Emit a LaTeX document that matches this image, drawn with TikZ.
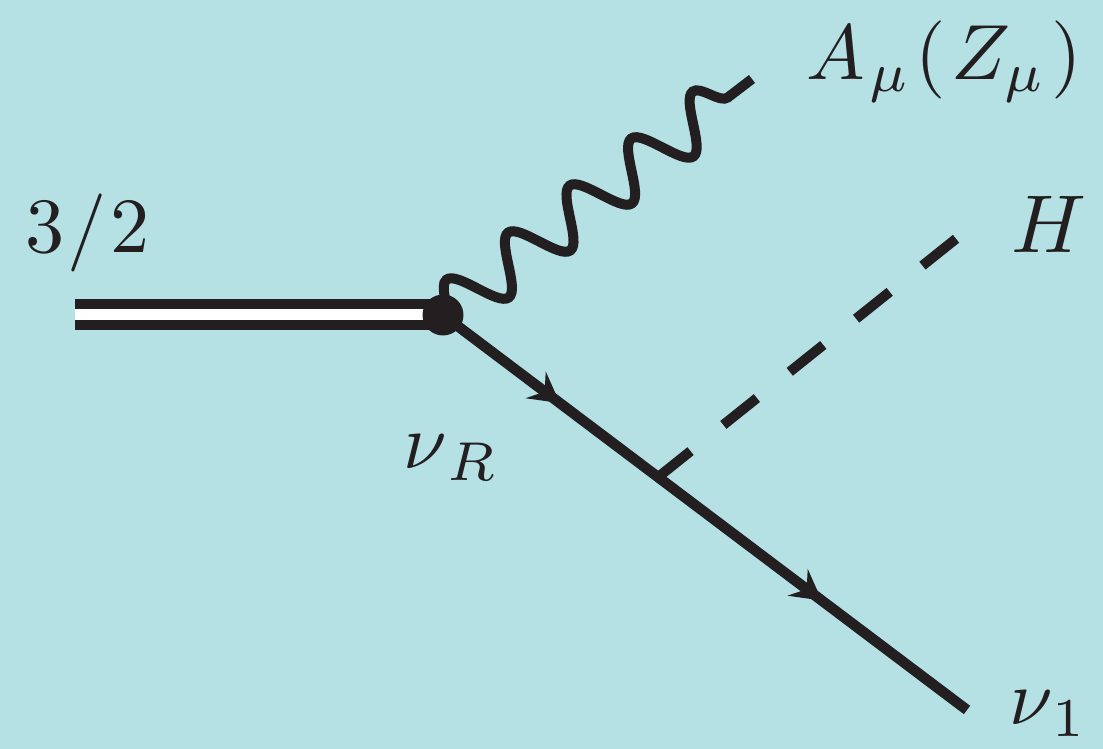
\RequirePackage{fix-cm}
\documentclass[tikz,border=0pt]{standalone}
\usetikzlibrary{arrows.meta, decorations.pathmorphing, decorations.markings}
\definecolor{cbg}{HTML}{B5E1E4}
\definecolor{cink}{HTML}{231F20}
\tikzset{
  every picture/.style={x=0.02cm, y=-0.02cm},
  label/.style={text=cink, anchor=base west, inner sep=0pt, scale=4.45, transform shape},
  vertex/.style={circle, fill=cink, inner sep=0pt, minimum size=0.82cm},
  scalar/.style={draw=cink, line width=0.2cm, dash pattern=on 0.86cm off 0.84cm},
  photon/.style={draw=cink, line width=0.2cm, decorate, decoration={snake, segment length=1.55cm, amplitude=0.52cm, post length=0pt}},
  heavy/.style={draw=cink, line width=0.2cm, double=white, double distance=0.22cm},
  fermion/.style={draw=cink, line width=0.21cm, postaction={decorate}, decoration={markings,
    mark=at position 0.223 with {\arrow[cink]{Stealth[length=0.6cm, width=0.66cm, inset=0.22cm]}},
    mark=at position 0.723 with {\arrow[cink]{Stealth[length=0.6cm, width=0.66cm, inset=0.22cm]}}}},
}
\begin{document}
\begin{tikzpicture}
  \fill[cbg] (0, 0) rectangle (1103, 749);
  \useasboundingbox (0, 0) rectangle (1103, 749);
  % vertices and free ends
  \coordinate (v) at (443, 315);
  \coordinate (j) at (657, 478);
  \coordinate (heavyend) at (75, 315);
  \coordinate (photonend) at (752, 79);
  \coordinate (scalarend) at (957, 238);
  \coordinate (nuend) at (967, 710);
  \draw[heavy] (heavyend) -- (v);
  \draw[photon] (v) -- (photonend);
  \draw[scalar] (j) -- (scalarend);
  \draw[fermion] (v) -- (nuend);
  \node[vertex] (vdot) at (v) {};
  % labels
  \node[label] (gravitino) at (24, 253) {$3\kern.3pt/\kern.5pt2$};
  \node[label] (gauge) at (805, 80) {$A_{\kern.5pt\mu}\kern.6pt(\kern.7pt Z_{\mu}\kern.6pt)$};
  \node[label, scale=1.05] (higgs) at (1010, 253) {$H$};
  \node[label] (nur) at (402, 469) {$\nu_{\kern.7pt R}$};
  \node[label] (nuone) at (1008, 725) {$\nu_{\kern.5pt 1}$};
\end{tikzpicture}
\end{document}
